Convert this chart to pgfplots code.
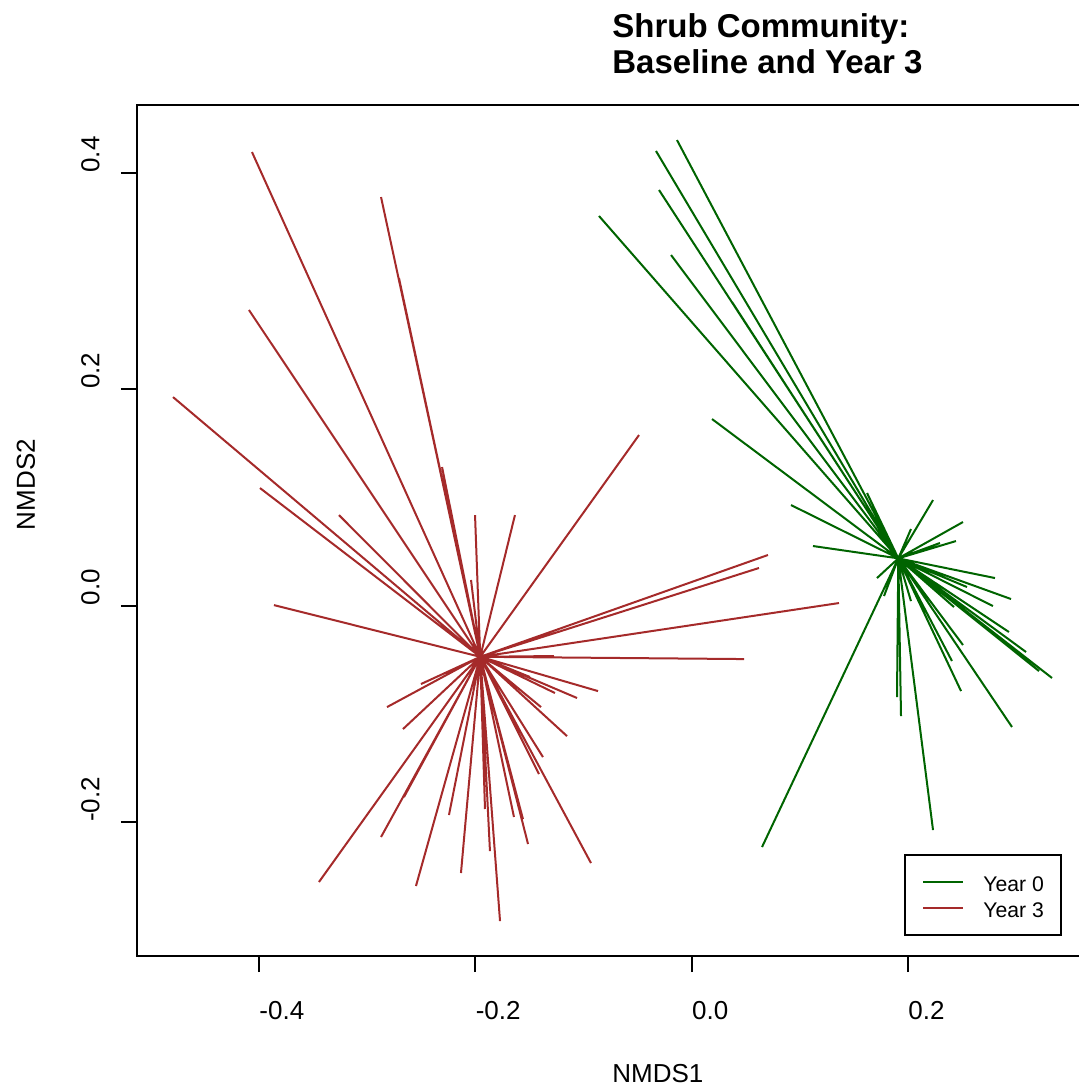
\documentclass[border=0pt]{standalone}
\usepackage{fontspec}
\setmainfont{Liberation Sans}
\usepackage{pgfplots}
\pgfplotsset{compat=1.18}
\definecolor{rbrown}{RGB}{165,42,42}
\definecolor{rdarkgreen}{RGB}{0,100,0}

\begin{document}
\begin{tikzpicture}
\useasboundingbox (0,0) rectangle (539pt,545.5pt);
\begin{axis}[
  at={(68.5pt,67.5pt)}, anchor=south west,
  x=540.85pt, y=540.85pt,
  xmin=-0.5128, xmax=0.3654, ymin=-0.3238, ymax=0.4629,
  axis line style={line width=1pt},
  xtick={-0.4,-0.2,0,0.2}, xticklabels={-0.4,-0.2,0.0,0.2},
  ytick={-0.2,0,0.2,0.4}, yticklabels={-0.2,0.0,0.2,0.4},
  tick align=outside, major tick length=8pt,
  xtick pos=bottom, ytick pos=left,
  tick style={line width=1pt, black},
  xticklabel style={yshift=-14.5pt, anchor=north west, inner sep=0pt, font=\fontsize{13}{13}\selectfont},
  yticklabel style={xshift=-10.5pt, rotate=90, anchor=south west, inner sep=0pt, font=\fontsize{13}{13}\selectfont},
  xlabel={NMDS1}, ylabel={NMDS2},
  every axis x label/.style={at={(axis description cs:0.5,-0.1492)}, anchor=base west, inner sep=0pt, font=\fontsize{13}{13}\selectfont},
  every axis y label/.style={at={(axis description cs:-0.1074,0.5)}, rotate=90, anchor=base west, inner sep=0pt, font=\fontsize{13}{13}\selectfont},
  title={Shrub Community:\\Baseline and Year 3},
  every axis title/.style={at={(axis description cs:0.5,1.1081)}, anchor=north west, align=left, inner sep=0pt, font=\bfseries\fontsize{16.5}{18.25}\selectfont},
  unbounded coords=jump,
  legend style={at={(axis description cs:0.9737,0.1199)}, anchor=north east, draw=black, line width=1pt, fill=white,
    inner xsep=8.5pt, inner ysep=7pt, row sep=0pt, column sep=9.5pt,
    font=\fontsize{10.6}{10.6}\selectfont,
    nodes={inner sep=0pt, text height=11.5pt, text depth=1.5pt}},
  legend cell align=left,
  legend image code/.code={\draw[#1] (0pt,0pt) -- (20pt,0pt);},
]
% Year 0: sites joined to their group centroid
\addplot[rdarkgreen, line width=1pt] coordinates {
(0.191,0.0438) (-0.0136,0.4305) (nan,nan)
(0.191,0.0438) (-0.0330,0.4204) (nan,nan)
(0.191,0.0438) (-0.0302,0.3843) (nan,nan)
(0.191,0.0438) (-0.0857,0.3603) (nan,nan)
(0.191,0.0438) (-0.0191,0.3242) (nan,nan)
(0.191,0.0438) (0.0373,0.2808) (nan,nan)
(0.191,0.0438) (0.0188,0.1726) (nan,nan)
(0.191,0.0438) (0.0918,0.0931) (nan,nan)
(0.191,0.0438) (0.1121,0.0552) (nan,nan)
(0.191,0.0438) (0.1621,0.1042) (nan,nan)
(0.191,0.0438) (0.2231,0.0977) (nan,nan)
(0.191,0.0438) (0.2027,0.0709) (nan,nan)
(0.191,0.0438) (0.2508,0.0774) (nan,nan)
(0.191,0.0438) (0.2443,0.0598) (nan,nan)
(0.191,0.0438) (0.2295,0.0580) (nan,nan)
(0.191,0.0438) (0.1713,0.0256) (nan,nan)
(0.191,0.0438) (0.1778,0.0090) (nan,nan)
(0.191,0.0438) (0.2027,0.0043) (nan,nan)
(0.191,0.0438) (0.2804,0.0256) (nan,nan)
(0.191,0.0438) (0.2952,0.0062) (nan,nan)
(0.191,0.0438) (0.2785,-0.0003) (nan,nan)
(0.191,0.0438) (0.2545,0.0173) (nan,nan)
(0.191,0.0438) (0.2425,-0.0012) (nan,nan)
(0.191,0.0438) (0.2933,-0.0243) (nan,nan)
(0.191,0.0438) (0.3091,-0.0428) (nan,nan)
(0.191,0.0438) (0.3211,-0.0604) (nan,nan)
(0.191,0.0438) (0.3331,-0.0668) (nan,nan)
(0.191,0.0438) (0.2508,-0.0363) (nan,nan)
(0.191,0.0438) (0.2406,-0.0511) (nan,nan)
(0.191,0.0438) (0.2490,-0.0789) (nan,nan)
(0.191,0.0438) (0.2961,-0.1121) (nan,nan)
(0.191,0.0438) (0.2231,-0.2074) (nan,nan)
(0.191,0.0438) (0.1935,-0.1020) (nan,nan)
(0.191,0.0438) (0.1898,-0.0844) (nan,nan)
(0.191,0.0438) (0.0650,-0.2231)
};
\addlegendentry{Year 0}
% Year 3: sites joined to their group centroid
\addplot[rbrown, line width=1pt] coordinates {
(-0.1955,-0.0472) (-0.4065,0.4194) (nan,nan)
(-0.1955,-0.0472) (-0.2872,0.3778) (nan,nan)
(-0.1955,-0.0472) (-0.2706,0.3029) (nan,nan)
(-0.1955,-0.0472) (-0.4093,0.2734) (nan,nan)
(-0.1955,-0.0472) (-0.4795,0.1929) (nan,nan)
(-0.1955,-0.0472) (-0.3991,0.1088) (nan,nan)
(-0.1955,-0.0472) (-0.3261,0.0838) (nan,nan)
(-0.1955,-0.0472) (-0.2308,0.1282) (nan,nan)
(-0.1955,-0.0472) (-0.2003,0.0838) (nan,nan)
(-0.1955,-0.0472) (-0.1634,0.0838) (nan,nan)
(-0.1955,-0.0472) (-0.3862,0.0006) (nan,nan)
(-0.1955,-0.0472) (-0.2040,0.0238) (nan,nan)
(-0.1955,-0.0472) (-0.0487,0.1578) (nan,nan)
(-0.1955,-0.0472) (0.0705,0.0469) (nan,nan)
(-0.1955,-0.0472) (0.0622,0.0349) (nan,nan)
(-0.1955,-0.0472) (0.1362,0.0025) (nan,nan)
(-0.1955,-0.0472) (0.0484,-0.0493) (nan,nan)
(-0.1955,-0.0472) (-0.1273,-0.0465) (nan,nan)
(-0.1955,-0.0472) (-0.0866,-0.0789) (nan,nan)
(-0.1955,-0.0472) (-0.1060,-0.0853) (nan,nan)
(-0.1955,-0.0472) (-0.1264,-0.0807) (nan,nan)
(-0.1955,-0.0472) (-0.1393,-0.0937) (nan,nan)
(-0.1955,-0.0472) (-0.1495,-0.0659) (nan,nan)
(-0.1955,-0.0472) (-0.1153,-0.1205) (nan,nan)
(-0.1955,-0.0472) (-0.1375,-0.1399) (nan,nan)
(-0.1955,-0.0472) (-0.1412,-0.1556) (nan,nan)
(-0.1955,-0.0472) (-0.0931,-0.2379) (nan,nan)
(-0.1955,-0.0472) (-0.1513,-0.2203) (nan,nan)
(-0.1955,-0.0472) (-0.1560,-0.1972) (nan,nan)
(-0.1955,-0.0472) (-0.1643,-0.1953) (nan,nan)
(-0.1955,-0.0472) (-0.1772,-0.2915) (nan,nan)
(-0.1955,-0.0472) (-0.1865,-0.2268) (nan,nan)
(-0.1955,-0.0472) (-0.1911,-0.1879) (nan,nan)
(-0.1955,-0.0472) (-0.1892,-0.1334) (nan,nan)
(-0.1955,-0.0472) (-0.2133,-0.2471) (nan,nan)
(-0.1955,-0.0472) (-0.2244,-0.1935) (nan,nan)
(-0.1955,-0.0472) (-0.2549,-0.2591) (nan,nan)
(-0.1955,-0.0472) (-0.2503,-0.0724) (nan,nan)
(-0.1955,-0.0472) (-0.2817,-0.0937) (nan,nan)
(-0.1955,-0.0472) (-0.2669,-0.1140) (nan,nan)
(-0.1955,-0.0472) (-0.3446,-0.2554) (nan,nan)
(-0.1955,-0.0472) (-0.2872,-0.2138) (nan,nan)
(-0.1955,-0.0472) (-0.2660,-0.1769)
};
\addlegendentry{Year 3}
\end{axis}
\end{tikzpicture}
\end{document}
